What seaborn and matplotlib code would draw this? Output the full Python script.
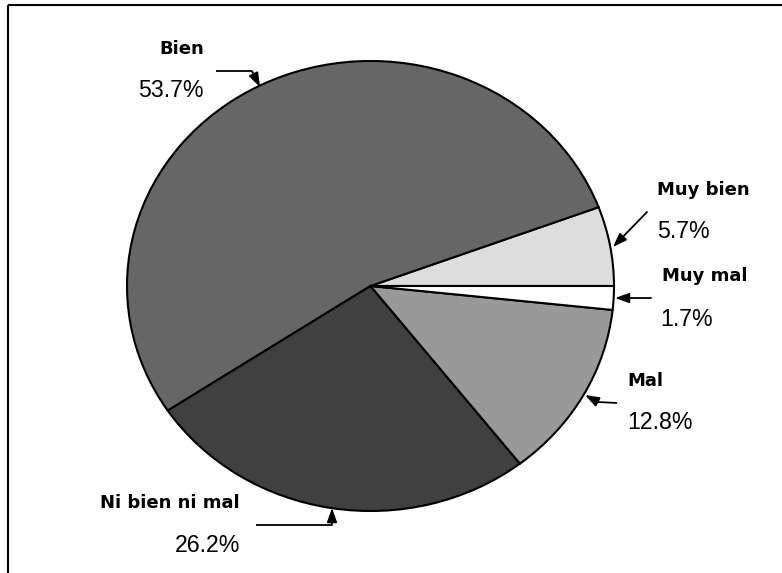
import matplotlib.pyplot as plt
import seaborn as sns
import numpy as np

# data (counter-clockwise from 3 o'clock)
labels = ["Muy bien", "Bien", "Ni bien ni mal", "Mal", "Muy mal"]
values = [5.7, 53.7, 26.2, 12.8, 1.7]
colors = ["#dddddd", "#666666", "#404040", "#999999", "#ffffff"]

sns.set_theme(style="white")
plt.rcParams['font.family'] = ['Liberation Sans', 'DejaVu Sans']

W, H = 782, 573
fig = plt.figure(figsize=(W / 100, H / 100), dpi=100)
fig.patch.set_facecolor("white")

# pie sits in an axes the size of its (slightly squashed) ellipse
left, right, top, bottom = 127, 614, 61, 511
ax = fig.add_axes([left / W, (H - bottom) / H, (right - left) / W, (bottom - top) / H])
ax.pie(values, colors=colors, startangle=0, counterclock=True,
       wedgeprops=dict(edgecolor="black", linewidth=1.5))
ax.set_xlim(-1, 1)
ax.set_ylim(-1, 1)
ax.set_aspect("auto")
ax.axis("off")

# overlay in pixel coords for labels / arrows / frame
ov = fig.add_axes([0, 0, 1, 1], zorder=5)
ov.set_xlim(0, W)
ov.set_ylim(H, 0)
ov.axis("off")

# frame (only top and left visible in the reference)
ov.plot([8, W], [5, 5], color="black", lw=1.5, solid_capstyle="butt")
ov.plot([8, 8], [5, H], color="black", lw=1.5, solid_capstyle="butt")

# label positions: (name x, name baseline y, pct x, pct baseline y)
label_pos = {
    "Bien": (182, 54, 171, 97),
    "Muy bien": (703, 195, 683, 238),
    "Muy mal": (705, 281, 687, 326),
    "Mal": (645, 386, 660, 429),
    "Ni bien ni mal": (170, 508, 208, 552),
}
# arrow paths, last point is the arrow tip
arrow_paths = {
    "Bien": [(216, 71), (252, 71), (260, 87)],
    "Muy bien": [(647, 212), (613, 247)],
    "Muy mal": [(651, 298), (615, 298)],
    "Mal": [(617, 403), (598, 402), (585, 395)],
    "Ni bien ni mal": [(256, 525), (332, 525), (332, 508)],
}

for name, val in zip(labels, values):
    nx, ny, px, py = label_pos[name]
    ov.text(nx, ny, name, ha="center", va="baseline", fontsize=13,
            fontweight="bold", family=["DejaVu Sans"], color="black")
    ov.text(px, py, f"{val:.1f}%", ha="center", va="baseline", fontsize=16.7,
            color="black")
    pts = arrow_paths[name]
    xs = [p[0] for p in pts[:-1]]
    ys = [p[1] for p in pts[:-1]]
    if len(pts) > 2:
        ov.plot(xs, ys, color="black", lw=1.3, solid_capstyle="butt")
    ov.annotate("", xy=pts[-1], xytext=pts[-2],
                arrowprops=dict(arrowstyle="-|>,head_length=0.7,head_width=0.25",
                                color="black", lw=1.3, shrinkA=0, shrinkB=0))

fig.savefig("out.png", dpi=100)
